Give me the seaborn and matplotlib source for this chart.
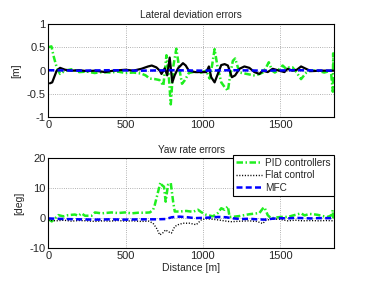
import matplotlib
matplotlib.use("Agg")
import matplotlib.pyplot as plt
import seaborn as sns

# lateral deviation errors [m]
lat_pid_d = [0, 20, 35, 54, 76, 108, 150, 200, 250, 300, 350, 400, 450, 500, 550,
             600, 630, 657, 690, 720, 745, 765, 780, 793, 810, 829, 848, 866, 885, 910,
             950, 990, 1023, 1045, 1060, 1077, 1095, 1120, 1142, 1163, 1180, 1195, 1210, 1238, 1286,
             1330, 1360, 1389, 1411, 1428, 1450, 1467, 1486, 1518, 1540, 1560, 1582, 1604, 1637, 1669,
             1701, 1744, 1787, 1830, 1843, 1845, 1847]
lat_pid = [0.5, 0.52, 0.3, 0.07, -0.07, 0.0, 0.03, -0.03, -0.02, -0.05, -0.03, -0.04, -0.02, -0.05, -0.04,
           -0.06, -0.1, -0.17, -0.18, -0.2, -0.32, 0.33, -0.1, -0.72, 0.1, 0.47, 0.05, -0.28, -0.2, -0.05,
           -0.02, -0.04, 0.0, -0.17, 0.1, 0.46, 0.1, -0.25, -0.35, -0.43, -0.05, 0.21, 0.26, -0.04, -0.07,
           -0.1, -0.08, -0.04, 0.07, 0.18, 0.0, -0.04, 0.0, 0.11, 0.04, 0.07, 0.07, -0.02, -0.18, -0.05,
           0.0, 0.0, -0.04, 0.0, -0.45, 0.37, 0.0]

lat_flat_d = [10, 25, 54, 76, 108, 150, 200, 250, 300, 368, 420, 500, 550, 603, 646,
              670, 700, 722, 733, 754, 770, 786, 803, 818, 840, 872, 890, 910, 950, 990,
              1023, 1040, 1055, 1077, 1100, 1120, 1142, 1163, 1189, 1210, 1238, 1270, 1302, 1335, 1367,
              1389, 1421, 1453, 1496, 1529, 1550, 1582, 1610, 1637, 1669, 1701, 1766, 1846]
lat_flat = [-0.27, -0.25, 0.0, 0.06, 0.02, 0.0, 0.01, -0.01, 0.0, -0.03, 0.0, 0.02, 0.0, 0.04, 0.09,
            0.11, 0.07, 0.0, -0.07, 0.05, -0.1, 0.28, -0.25, -0.1, 0.05, 0.16, 0.11, 0.0, -0.03, -0.03,
            -0.03, 0.09, -0.14, -0.25, -0.05, 0.12, 0.14, 0.11, -0.14, -0.1, 0.04, 0.09, 0.06, -0.03, -0.07,
            0.0, -0.03, 0.04, 0.0, -0.03, 0.04, 0.0, 0.02, 0.09, 0.04, -0.01, 0.0, 0.0]

lat_mfc_d = [0, 200, 400, 600, 800, 1000, 1200, 1400, 1600, 1850]
lat_mfc = [0.01, 0.0, 0.01, 0.0, 0.01, 0.0, 0.01, 0.0, 0.01, 0.0]

# yaw rate errors [deg]
yaw_pid_d = [0, 22, 54, 65, 97, 129, 172, 195, 215, 237, 280, 302, 345, 409, 452,
             495, 540, 581, 624, 657, 678, 689, 711, 726, 736, 749, 760, 775, 793, 808,
             819, 851, 894, 937, 969, 990, 1023, 1066, 1098, 1120, 1141, 1163, 1174, 1206, 1238,
             1270, 1302, 1334, 1367, 1389, 1400, 1421, 1443, 1474, 1507, 1550, 1593, 1637, 1660, 1690,
             1716, 1744, 1776, 1809, 1836, 1842, 1846]
yaw_pid = [-0.2, -1.0, 0.5, 1.1, 0.7, 1.1, 1.3, 0.9, 1.7, 0.9, 0.9, 2.0, 1.7, 2.0, 1.8,
           2.0, 1.7, 1.9, 1.9, 2.0, 2.8, 4.4, 8.9, 12.0, 11.1, 10.6, 5.6, 11.2, 11.8, 5.7,
           2.3, 2.3, 2.5, 2.2, 2.9, 2.1, 1.2, 0.7, 1.8, 3.4, 2.9, 4.0, 0.5, 0.6, 0.8,
           1.1, 1.4, 1.6, 1.8, 3.3, 3.7, 1.1, 0.0, 0.3, 0.5, 0.5, 1.1, 1.7, 1.0, 1.5,
           1.4, 1.2, 0.8, 0.5, 1.1, 2.8, 0.0]

yaw_flat_d = [0, 50, 100, 150, 200, 250, 300, 350, 400, 450, 500, 550, 600, 650, 678,
              700, 722, 740, 760, 775, 797, 819, 840, 872, 915, 958, 990, 1023, 1087, 1152,
              1180, 1250, 1300, 1350, 1389, 1410, 1450, 1500, 1550, 1600, 1650, 1700, 1750, 1800, 1850]
yaw_flat = [-0.6, -0.8, -0.6, -0.9, -0.7, -0.8, -1.0, -0.8, -0.9, -0.7, -0.9, -0.8, -1.0, -0.9, -1.6,
            -3.2, -5.5, -4.9, -3.8, -4.4, -4.9, -2.7, -2.1, -1.6, -1.6, -2.1, -0.5, -0.1, -0.4, -0.9,
            -1.1, -0.9, -0.8, -1.0, -1.7, -0.6, -0.2, -0.3, -0.8, -0.6, -0.8, -0.7, -0.8, -0.7, -0.8]

yaw_mfc_d = [0, 100, 200, 300, 400, 500, 600, 700, 760, 800, 850, 900, 950, 1000, 1050,
             1100, 1150, 1200, 1250, 1300, 1350, 1400, 1450, 1500, 1550, 1600, 1650, 1700, 1750, 1800, 1850]
yaw_mfc = [0.0, -0.2, -0.3, -0.4, -0.3, -0.4, -0.3, -0.3, -0.2, 0.4, 0.6, 0.4, 0.1, 0.2, 0.3,
           0.5, 0.4, 0.0, -0.2, -0.1, -0.3, -0.4, -0.1, 0.1, 0.0, 0.2, 0.1, 0.0, 0.1, 0.1, 0.1]

labels = ["PID controllers", "Flat control", "MFC"]
GREEN, BLUE = "#1fee1f", "#0000ff"
DASHDOT = (0, (2.6, 1.0, 0.6, 1.0))
DASHED = (0, (2.4, 1.3))
DOTTED = (0, (0.8, 1.2))

sns.set_style("white")
plt.rcParams["font.family"] = ["Liberation Sans", "DejaVu Sans"]
plt.rcParams["axes.unicode_minus"] = False

fig = plt.figure(figsize=(3.69, 2.81), dpi=100)
ax1 = fig.add_axes([0.131, 0.582, 0.774, 0.333])
ax2 = fig.add_axes([0.131, 0.116, 0.774, 0.320])

common = dict(sort=False, estimator=None, legend=False)

# top panel
sns.lineplot(x=lat_pid_d, y=lat_pid, ax=ax1, color=GREEN, lw=1.8, linestyle=DASHDOT, **common)
sns.lineplot(x=lat_flat_d, y=lat_flat, ax=ax1, color="black", lw=1.6, **common)
sns.lineplot(x=lat_mfc_d, y=lat_mfc, ax=ax1, color=BLUE, lw=1.8, linestyle=DASHED, **common)
ax1.set_ylim(-1, 1)
ax1.set_yticks([-1, -0.5, 0, 0.5, 1])
ax1.set_yticklabels(["-1", "-0.5", "0", "0.5", "1"])
ax1.set_title("Lateral deviation errors", fontsize=7.2, pad=4)
ax1.set_ylabel("[m]", fontsize=7.5)

# bottom panel
sns.lineplot(x=yaw_pid_d, y=yaw_pid, ax=ax2, color=GREEN, lw=1.8, linestyle=DASHDOT, label=labels[0], **common)
sns.lineplot(x=yaw_flat_d, y=yaw_flat, ax=ax2, color="black", lw=1.0, linestyle=DOTTED, label=labels[1], **common)
sns.lineplot(x=yaw_mfc_d, y=yaw_mfc, ax=ax2, color=BLUE, lw=1.8, linestyle=DASHED, label=labels[2], **common)
ax2.set_ylim(-10, 20)
ax2.set_yticks([-10, 0, 10, 20])
ax2.set_title("Yaw rate errors", fontsize=7.2, pad=4)
ax2.set_ylabel("[deg]", fontsize=7.5)
ax2.set_xlabel("Distance [m]", fontsize=7.5, labelpad=1)
leg = ax2.legend(loc="upper right", bbox_to_anchor=(1.0, 1.04), fontsize=7.2, frameon=True,
                 fancybox=False, handlelength=2.6, borderpad=0.3, labelspacing=0.25,
                 handletextpad=0.3, borderaxespad=0)
leg.get_frame().set_edgecolor("black")
leg.get_frame().set_linewidth(0.8)
leg.get_frame().set_alpha(1)

for ax in (ax1, ax2):
    ax.set_xlim(0, 1850)
    ax.set_xticks([0, 500, 1000, 1500])
    ax.grid(True, linestyle=":", color="#999999", linewidth=0.6)
    ax.tick_params(direction="in", length=3, labelsize=8, pad=2)
    for s in ax.spines.values():
        s.set_color("black")
        s.set_linewidth(0.8)

fig.savefig("out.png", dpi=100)
